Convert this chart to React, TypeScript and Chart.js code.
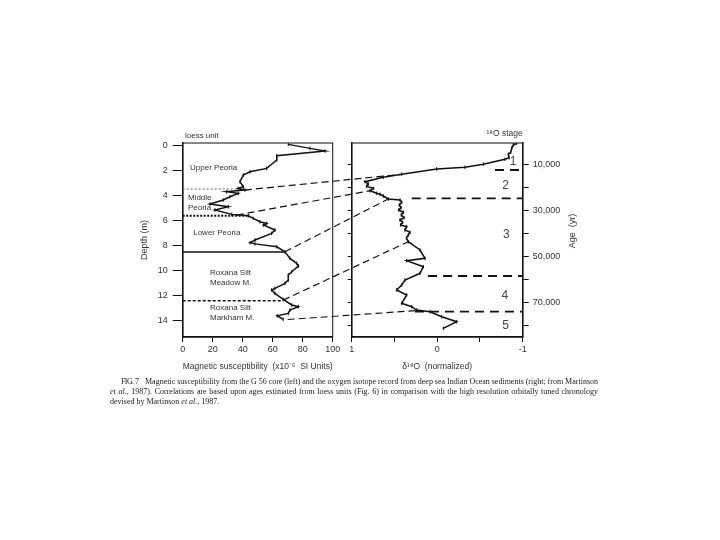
import React, { useEffect, useRef } from "react";
import { Chart, registerables } from "chart.js";
Chart.register(...registerables);

// ---------- Left panel: magnetic susceptibility vs depth ----------
const susceptibility = [70.4, 84.9, 94.9, 62.7, 62.7, 56, 44.9, 40.4, 38.2, 40.4, 37, 41.5, 29.3, 37, 31.5, 27, 18.2, 30.4, 21.5, 32.7, 43.8, 47, 51.5, 56, 53.8, 61.5, 59.3, 48.2, 44.9, 48.2, 62.7, 68.2, 71.5, 76, 77.1, 72.7, 70.4, 70.4, 68.2, 61.5, 59.3, 61.5, 67, 72.7, 77.1, 71.5, 70.4, 63, 67];
const depthM = [-0.11, 0.21, 0.42, 0.8, 1.14, 1.81, 2.08, 2.34, 2.88, 3.28, 3.41, 3.54, 3.68, 3.81, 4.08, 4.34, 4.66, 4.88, 5.14, 5.49, 5.6, 5.81, 6.08, 6.21, 6.34, 6.74, 7.01, 7.54, 7.75, 7.85, 8.08, 8.48, 9.01, 9.41, 9.62, 10.08, 10.34, 10.74, 11.01, 11.41, 11.54, 11.81, 12.29, 12.74, 12.88, 13.14, 13.41, 13.6, 13.89];

// loess unit boundaries (depth, end of line in susceptibility units)
const boundaryDepth = [3.46, 5.6, 8.5, 12.4];
const boundaryEnd = [41.5, 43.8, 68.2, 67];

const depthTicks = [0, 2, 4, 6, 8, 10, 12, 14];
const suscTicks = [0, 20, 40, 60, 80, 100];

const unitLabels = ["Upper Peoria", "Middle", "Peoria", "Lower Peoria", "Roxana Silt", "Meadow M.", "Roxana Silt", "Markham M."];
const unitLabelSusc = [4.9, 3.5, 3.5, 7, 18.2, 18.2, 18.2, 18.2];
const unitLabelDepth = [1.76, 4.2, 5.0, 6.98, 10.2, 11.0, 13.0, 13.8];

// ---------- Right panel: δ18O vs age ----------
const d18O = [-0.93, -0.89, -0.871, -0.86, -0.832, -0.84, -0.793, -0.539, -0.325, 0.006, 0.415, 0.63, 0.844, 0.806, 0.825, 0.747, 0.786, 0.708, 0.669, 0.63, 0.572, 0.435, 0.415, 0.443, 0.423, 0.45, 0.396, 0.42, 0.388, 0.435, 0.404, 0.427, 0.357, 0.377, 0.318, 0.338, 0.36, 0.338, 0.201, 0.143, 0.357, 0.163, 0.201, 0.377, 0.415, 0.474, 0.357, 0.415, 0.298, 0.24, 0.084, -0.053, -0.228, -0.071];
const ageYr = [893, 1631, 3060, 4797, 5663, 7140, 7832, 10000, 11301, 12038, 14337, 15638, 17545, 18540, 19590, 20408, 21450, 22576, 23010, 23747, 25048, 25481, 26480, 27650, 28820, 29820, 30820, 31990, 33160, 34150, 35150, 36320, 37060, 38490, 39490, 40660, 42000, 43565, 47164, 50764, 51804, 54406, 57268, 60173, 62340, 64510, 66678, 70278, 71752, 73183, 73920, 76089, 78257, 81119];

const stageBoundaryAge = [12470, 24740, 58440, 73920];
const stageBoundaryStart = [-0.676, 0.298, 0.107, 0.26];
const stageNames = ["1", "2", "3", "4", "5"];
const stageLabelD18O = [-0.887, -0.8, -0.81, -0.79, -0.8];
const stageLabelAge = [8870, 19410, 40660, 67110, 80120];

const ageTicks = [10000, 20000, 30000, 40000, 50000, 60000, 70000, 80000];
const ageLabelled = [10000, 30000, 50000, 70000];
const d18OTicks = [1, 0.5, 0, -0.5, -1];

// ---------- Correlation lines (left point -> right point) ----------
const linkSusc = [41.5, 36, 68.2, 67, 70];
const linkDepth = [3.54, 5.55, 8.48, 12.35, 13.9];
const linkD18O = [0.415, 0.786, 0.572, 0.338, 0.22];
const linkAge = [14337, 21450, 25048, 43565, 73400];

const FAMILY = "'Liberation Sans', Arial, Helvetica, sans-serif";
const INK = "#111";
const TXT = "#333";

export default function App() {
  const leftRef = useRef<HTMLCanvasElement>(null);
  const rightRef = useRef<HTMLCanvasElement>(null);
  const capRefs = useRef<(HTMLSpanElement | null)[]>([]);

  useEffect(() => {
    Chart.defaults.font.family = FAMILY;
    Chart.defaults.color = TXT;

    const boundaryStyles = [
      { borderDash: [2, 2], borderWidth: 1, borderColor: "#666" },
      { borderDash: [2, 1.5], borderWidth: 2, borderColor: INK },
      { borderDash: [], borderWidth: 1.3, borderColor: INK },
      { borderDash: [3, 2], borderWidth: 1.5, borderColor: INK },
    ];

    const leftPlugin = {
      id: "leftDecor",
      afterDatasetsDraw(c: any) {
        const { ctx, chartArea: a, scales } = c;
        const x = scales.x, y = scales.y;
        ctx.save();
        ctx.strokeStyle = INK;
        ctx.lineWidth = 1;
        ctx.setLineDash([]);
        ctx.strokeRect(a.left, a.top, a.right - a.left, a.bottom - a.top);
        ctx.fillStyle = TXT;
        ctx.font = `8px ${FAMILY}`;
        ctx.textBaseline = "middle";
        ctx.textAlign = "left";
        unitLabels.forEach((t, i) => {
          ctx.fillText(t, x.getPixelForValue(unitLabelSusc[i]), y.getPixelForValue(unitLabelDepth[i]));
        });
        ctx.fillText("loess unit", x.getPixelForValue(1.5), y.getPixelForValue(-0.82));
        ctx.restore();
      },
    };

    const left = new Chart(leftRef.current as HTMLCanvasElement, {
      type: "scatter",
      data: {
        datasets: [
          {
            data: susceptibility.map((v, i) => ({ x: v, y: depthM[i] })),
            showLine: true,
            borderColor: INK,
            borderWidth: 1.5,
            pointStyle: "line",
            rotation: 90,
            pointRadius: 1.8,
            pointBorderColor: INK,
            pointBorderWidth: 1,
          } as any,
          ...boundaryDepth.map((d, i) => ({
            data: [{ x: 0, y: d }, { x: boundaryEnd[i], y: d }],
            showLine: true,
            pointRadius: 0,
            ...boundaryStyles[i],
          })),
        ],
      },
      options: {
        animation: false,
        responsive: false,
        events: [],
        layout: { padding: { top: 33, right: 17.3, left: 0, bottom: 0 } },
        plugins: { legend: { display: false }, tooltip: { enabled: false } },
        scales: {
          x: {
            type: "linear",
            min: 0,
            max: 100,
            afterFit: (s: any) => { s.height = 53; },
            afterBuildTicks: (s: any) => { s.ticks = suscTicks.map((v) => ({ value: v })); },
            ticks: { font: { size: 9 }, color: TXT, padding: 2, maxRotation: 0, autoSkip: false },
            grid: { drawOnChartArea: false, tickLength: 5, color: INK },
            border: { color: INK, width: 1.5 },
            title: {
              display: true,
              text: "Magnetic susceptibility  (x10⁻⁵  SI Units)",
              font: { size: 8.5 },
              color: TXT,
              padding: { top: 0, bottom: 18.5 },
            },
          },
          y: {
            type: "linear",
            reverse: true,
            min: -0.22,
            max: 15.3,
            afterFit: (s: any) => { s.width = 82.7; },
            afterBuildTicks: (s: any) => { s.ticks = depthTicks.map((v) => ({ value: v })); },
            ticks: { font: { size: 9 }, color: TXT, padding: 5, autoSkip: false },
            grid: { drawOnChartArea: false, tickLength: 10, color: INK },
            border: { color: INK, width: 1.5 },
            title: {
              display: true,
              text: "Depth (m)",
              font: { size: 9 },
              color: TXT,
              padding: { top: 39, bottom: 0 },
            },
          },
        },
      } as any,
      plugins: [leftPlugin],
    });

    const rightPlugin = {
      id: "rightDecor",
      afterDatasetsDraw(c: any) {
        const { ctx, chartArea: a, scales } = c;
        const x = scales.x, y = scales.y;
        ctx.save();
        // frame
        ctx.strokeStyle = INK;
        ctx.lineWidth = 1;
        ctx.setLineDash([]);
        ctx.strokeRect(a.left, a.top, a.right - a.left, a.bottom - a.top);
        // correlation lines
        const lx = left.scales.x, ly = left.scales.y;
        ctx.setLineDash([7, 4]);
        ctx.lineWidth = 1.2;
        linkSusc.forEach((v, i) => {
          ctx.beginPath();
          ctx.moveTo(lx.getPixelForValue(v), ly.getPixelForValue(linkDepth[i]));
          ctx.lineTo(x.getPixelForValue(linkD18O[i]), y.getPixelForValue(linkAge[i]));
          ctx.stroke();
        });
        ctx.setLineDash([]);
        // stage numbers
        ctx.fillStyle = "#444";
        ctx.font = `12px ${FAMILY}`;
        ctx.textAlign = "center";
        ctx.textBaseline = "middle";
        stageNames.forEach((t, i) => {
          ctx.fillText(t, x.getPixelForValue(stageLabelD18O[i]), y.getPixelForValue(stageLabelAge[i]));
        });
        // header
        ctx.fillStyle = TXT;
        ctx.font = `8.5px ${FAMILY}`;
        ctx.textAlign = "right";
        ctx.textBaseline = "alphabetic";
        ctx.fillText("¹⁸O stage", a.right, a.top - 7);
        // Age axis title, reading bottom-to-top
        ctx.translate(a.right + 50, (a.top + a.bottom) / 2 - 9);
        ctx.rotate(-Math.PI / 2);
        ctx.textAlign = "center";
        ctx.textBaseline = "middle";
        ctx.font = `9px ${FAMILY}`;
        ctx.fillText("Age  (yr)", 0, 0);
        ctx.restore();
      },
    };

    const right = new Chart(rightRef.current as HTMLCanvasElement, {
      type: "scatter",
      data: {
        datasets: [
          {
            data: d18O.map((v, i) => ({ x: v, y: ageYr[i] })),
            showLine: true,
            borderColor: INK,
            borderWidth: 1.5,
            pointStyle: "line",
            rotation: 90,
            pointRadius: 1.8,
            pointBorderColor: INK,
            pointBorderWidth: 1,
          } as any,
          ...stageBoundaryAge.map((a, i) => ({
            data: [{ x: stageBoundaryStart[i], y: a }, { x: -1, y: a }],
            showLine: true,
            pointRadius: 0,
            borderColor: INK,
            borderWidth: 1.8,
            borderDash: [9, 6],
          })),
        ],
      },
      options: {
        animation: false,
        responsive: false,
        events: [],
        layout: { padding: { top: 33, right: 0, left: 0, bottom: 0 } },
        plugins: { legend: { display: false }, tooltip: { enabled: false } },
        scales: {
          x: {
            type: "linear",
            min: -1,
            max: 1,
            reverse: true,
            afterFit: (s: any) => { s.height = 53; },
            afterBuildTicks: (s: any) => { s.ticks = d18OTicks.map((v) => ({ value: v })); },
            ticks: {
              font: { size: 9 },
              color: TXT,
              padding: 2,
              maxRotation: 0,
              autoSkip: false,
              callback: (v: any) => (Number.isInteger(v) ? String(v) : ""),
            },
            grid: { drawOnChartArea: false, tickLength: 5, color: INK },
            border: { color: INK, width: 1.5 },
            title: {
              display: true,
              text: "δ¹⁸O  (normalized)",
              font: { size: 8.5 },
              color: TXT,
              padding: { top: 0, bottom: 18.5 },
            },
          },
          y: {
            type: "linear",
            position: "right",
            reverse: true,
            min: 763,
            max: 84890,
            afterFit: (s: any) => { s.width = 77.3; },
            afterBuildTicks: (s: any) => { s.ticks = ageTicks.map((v) => ({ value: v })); },
            ticks: {
              font: { size: 9 },
              color: TXT,
              padding: 4,
              autoSkip: false,
              callback: (v: any) => (ageLabelled.includes(v) ? Number(v).toLocaleString("en-US") : ""),
            },
            grid: { drawOnChartArea: false, tickLength: 6, color: INK },
            border: { color: INK, width: 1.5 },
          },
          yl: {
            type: "linear",
            position: "left",
            reverse: true,
            min: 763,
            max: 84890,
            afterFit: (s: any) => { s.width = 251.7; },
            afterBuildTicks: (s: any) => { s.ticks = ageTicks.map((v) => ({ value: v })); },
            ticks: { display: false },
            grid: { drawOnChartArea: false, tickLength: 4, color: INK },
            border: { color: INK, width: 1.5 },
          },
        },
      } as any,
      plugins: [rightPlugin],
    });

    // stretch caption lines to their target widths
    const targets = [453, 488];
    capRefs.current.forEach((el, i) => {
      if (!el) return;
      const w = el.getBoundingClientRect().width;
      const spaces = (el.textContent || "").split(" ").length - 1;
      if (spaces > 0) el.style.wordSpacing = `${(targets[i] - w) / spaces}px`;
    });

    return () => {
      right.destroy();
      left.destroy();
    };
  }, []);

  const cap: React.CSSProperties = {
    position: "absolute",
    font: "8px 'Liberation Serif', 'Times New Roman', serif",
    lineHeight: "10px",
    whiteSpace: "nowrap",
    color: "#222",
  };

  return (
    <div style={{ position: "absolute", left: 0, top: 0, width: 720, height: 540, background: "#fff", overflow: "hidden" }}>
      <canvas ref={leftRef} width={250} height={280} style={{ position: "absolute", left: 100, top: 110 }} />
      <canvas ref={rightRef} width={500} height={280} style={{ position: "absolute", left: 100, top: 110 }} />
      <span style={{ ...cap, left: 121, top: 377, letterSpacing: "-0.6px" }}>FIG. 7</span>
      <span ref={(e) => { capRefs.current[0] = e; }} style={{ ...cap, left: 145, top: 377 }}>
        Magnetic susceptibility from the G 56 core (left) and the oxygen isotope record from deep sea Indian Ocean sediments (right; from Martinson
      </span>
      <span ref={(e) => { capRefs.current[1] = e; }} style={{ ...cap, left: 110, top: 387 }}>
        <i>et al.</i>, 1987). Correlations are based upon ages estimated from loess units (Fig. 6) in comparison with the high resolution orbitally tuned chronology
      </span>
      <span style={{ ...cap, left: 110, top: 397 }}>
        devised by Martinson <i>et al.</i>, 1987.
      </span>
    </div>
  );
}
